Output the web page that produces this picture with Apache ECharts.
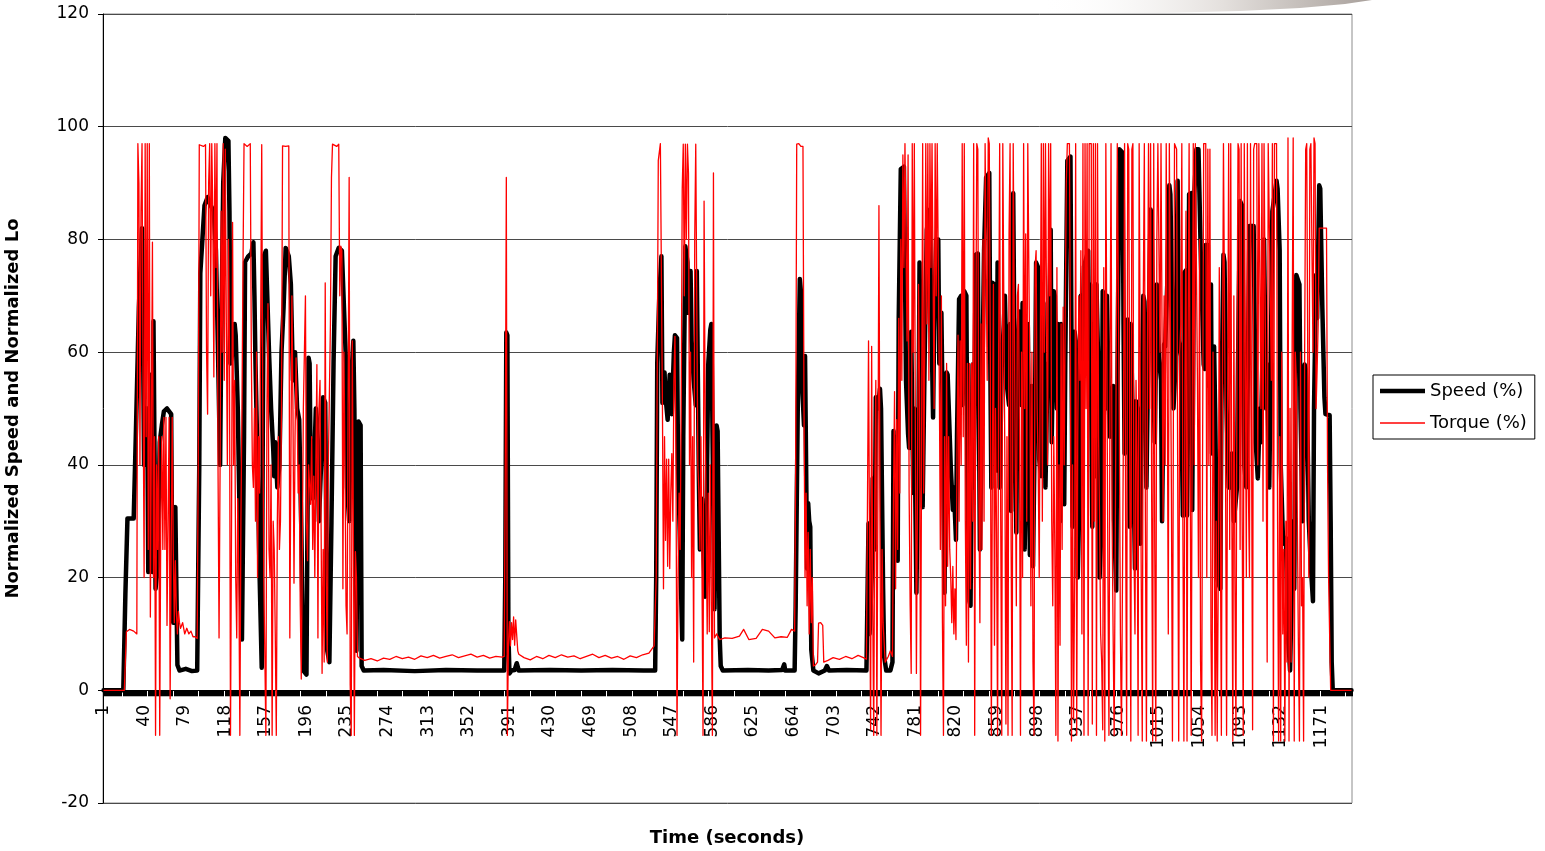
<!DOCTYPE html>
<html>
<head>
    <meta charset="UTF-8">
    <title>Normalized Speed and Torque</title>
    <script src="https://cdn.jsdelivr.net/npm/echarts@6/dist/echarts.min.js"></script>
    <style>
        html, body {
            margin: 0;
            padding: 0;
            background: #fff;
        }

        #chartContainer {
            width: 1545px;
            height: 851px;
        }
    </style>
</head>
<body>
<div id="chartContainer"></div>
<script>
    // cycle length in seconds (one category per second)
    var cycleSeconds = 1200;

    // [second, speed %]
    var speedPoints = [
        [1, 0], [20, 0], [22, 17], [24, 30.5], [30, 30.5], [32, 45], [35, 68], [38, 82], [39, 62], [40, 40],
        [41, 50], [43, 50], [44, 21], [46, 56], [47, 45], [48, 21], [49, 65.5], [50, 42], [51, 18], [53, 22],
        [55, 44], [57, 47], [59, 49.5], [62, 50], [66, 49], [67, 22], [68, 12], [70, 32.5], [71, 18], [72, 4.5],
        [74, 3.5], [80, 3.8], [86, 3.4], [91, 3.5],
        [93, 40], [94, 74], [96, 80], [98, 86], [101, 87.5], [104, 86], [107, 85], [109, 78], [111, 60], [113, 40],
        [114, 60], [116, 90], [118, 98], [121, 97.5], [122, 85], [123, 58], [125, 60], [127, 65], [128, 63], [130, 50],
        [132, 28], [134, 9], [136, 45], [137, 76], [140, 77], [143, 77.5], [145, 79.5], [146, 70], [147, 58], [149, 40],
        [151, 20], [153, 4], [154, 45], [155, 77], [157, 78], [158, 72], [160, 60], [162, 50], [164, 43], [165, 38],
        [166, 44], [168, 36], [170, 40], [172, 60], [174, 68], [176, 78.5], [179, 77], [181, 72], [183, 55], [185, 60],
        [187, 50], [189, 48], [191, 29], [193, 3.5], [196, 2.8], [198, 59], [199, 58], [200, 40], [202, 34], [203, 38],
        [205, 50], [206, 48], [208, 30], [210, 40], [212, 52], [214, 51], [216, 7], [218, 5], [220, 30], [222, 58],
        [224, 77], [227, 78.5], [230, 78], [232, 68], [234, 58], [235, 36], [237, 30], [239, 55], [241, 62], [242, 50],
        [244, 7], [246, 47.7], [248, 47], [249, 4.3], [251, 3.5],
        [270, 3.6], [300, 3.4], [330, 3.6], [360, 3.5], [386, 3.5], [387, 20], [388, 63.5], [389, 63], [390, 10], [391, 3],
        [393, 3.5], [396, 3.6], [398, 4.8], [400, 3.5], [430, 3.6], [460, 3.5], [490, 3.6], [520, 3.5], [531, 3.5],
        [532, 20], [533, 58], [535, 70], [537, 77], [538, 51], [540, 56.4], [541, 52], [543, 48], [545, 56], [547, 49],
        [549, 60], [550, 63], [552, 62.5], [553, 40], [555, 25], [557, 9], [558, 45], [560, 78.8], [562, 76], [563, 67],
        [565, 74.4], [566, 62], [568, 55], [570, 50.6], [571, 74.4], [573, 37.6], [574, 25], [576, 34], [577, 27], [579, 16.6],
        [580, 25], [582, 57.8], [584, 64], [585, 65], [587, 30], [588, 14.4], [590, 47], [591, 46], [593, 9.3], [594, 4.3],
        [596, 3.5], [620, 3.6], [640, 3.5], [653, 3.6], [655, 4.6], [656, 3.5], [665, 3.5],
        [666, 15], [668, 50], [670, 73], [671, 70.8], [672, 55], [674, 47], [675, 59.3], [677, 21.6], [678, 33.2], [679, 30],
        [680, 29], [681, 7.2], [683, 3.5], [688, 3], [694, 3.5], [696, 4.3], [698, 3.5], [715, 3.6], [734, 3.5],
        [736, 29.6], [737, 10], [739, 20], [740, 37.6], [742, 25], [743, 52], [745, 50], [747, 53.5], [748, 50], [750, 18],
        [751, 6], [753, 3.5], [757, 3.5], [759, 5], [760, 46], [762, 25], [763, 45], [764, 23], [765, 65.8], [767, 92.5],
        [770, 92.9], [771, 75], [772, 55], [774, 45.5], [775, 43], [777, 63.6], [779, 35], [780, 50], [782, 17.3], [784, 45],
        [785, 75.9], [787, 44], [788, 32.5], [790, 60], [792, 81.7], [795, 85.3], [796, 70], [798, 48.4], [799, 63.6], [801, 80],
        [803, 80], [804, 58], [806, 67], [808, 38], [809, 17.3], [811, 56.4], [812, 56], [813, 50.6], [815, 39.7], [817, 32],
        [818, 36], [820, 26.7], [821, 45], [823, 69.4], [825, 70], [826, 50.6], [828, 70.8], [830, 70], [831, 38], [833, 15.8],
        [834, 15], [836, 57.8], [837, 36], [839, 77.3], [841, 77.5], [843, 25], [845, 50], [847, 78], [849, 91], [852, 91.8],
        [853, 58], [854, 36], [855, 72.3], [857, 72], [859, 39], [860, 75.9], [862, 36], [864, 57.8], [866, 65], [867, 70],
        [869, 54], [871, 50.6], [872, 65], [873, 31.8], [875, 88.2], [876, 65], [878, 28], [879, 57], [881, 67.2], [883, 50.6],
        [884, 68.7], [886, 25], [887, 36], [889, 65], [891, 24], [893, 54], [894, 22], [896, 50], [897, 75.9], [899, 75],
        [900, 41], [902, 38], [904, 68.7], [905, 50], [906, 36], [908, 58], [909, 55], [911, 81.7], [912, 44], [914, 70.8],
        [915, 70], [917, 50], [918, 65], [920, 30], [921, 65], [923, 50], [924, 33], [925, 58], [927, 94], [930, 94.7],
        [931, 62], [932, 29], [934, 63.6], [935, 62], [937, 20], [938, 29], [940, 70], [941, 58], [943, 75.2], [947, 78],
        [948, 58], [949, 72], [951, 29], [952, 65], [954, 38], [955, 72], [957, 55], [958, 20], [960, 30], [961, 70.8],
        [962, 70], [964, 50], [965, 70], [967, 50], [968, 45], [970, 50], [971, 54], [972, 30], [974, 17.7], [975, 50],
        [977, 96], [980, 95.4], [981, 65], [982, 42], [984, 55], [985, 65.8], [987, 29], [988, 65], [990, 46.2], [992, 21.6],
        [993, 51.3], [995, 49], [996, 40], [997, 26], [998, 45], [1000, 70], [1001, 69], [1003, 36], [1004, 50], [1007, 85.3],
        [1008, 84], [1010, 52], [1011, 44], [1013, 72], [1015, 59], [1017, 55], [1018, 30], [1020, 61.4], [1021, 61], [1023, 72],
        [1025, 89.6], [1026, 88], [1028, 65], [1029, 50], [1031, 58], [1033, 90.4], [1034, 62], [1036, 59.3], [1038, 31], [1039, 74],
        [1041, 74.5], [1042, 31], [1044, 88], [1046, 88.2], [1047, 32], [1049, 88], [1051, 96], [1053, 96], [1055, 79], [1058, 57.8],
        [1059, 57], [1060, 79], [1062, 79], [1063, 54], [1065, 72], [1066, 42], [1068, 61], [1069, 50], [1071, 20], [1072, 19],
        [1074, 18], [1075, 50], [1077, 77.3], [1078, 76], [1080, 50], [1082, 36], [1084, 36], [1085, 42], [1087, 30], [1088, 30],
        [1090, 36], [1091, 57.8], [1093, 86.8], [1095, 86], [1097, 40], [1099, 36], [1100, 50], [1102, 82.4], [1106, 82.4], [1107, 65],
        [1108, 44], [1110, 37.6], [1112, 50], [1113, 44], [1115, 65], [1116, 80], [1118, 50], [1119, 57.8], [1121, 36], [1122, 50],
        [1124, 85], [1125, 85], [1128, 90.4], [1129, 89], [1131, 78], [1132, 40], [1134, 28], [1135, 26], [1137, 27], [1138, 18],
        [1139, 10], [1141, 3.5], [1142, 3.5], [1144, 30], [1145, 18], [1147, 73.7], [1150, 72], [1151, 50], [1153, 30], [1155, 57.8],
        [1156, 57], [1158, 43], [1159, 30], [1161, 22], [1163, 15.8], [1164, 50], [1166, 73.7], [1167, 66], [1169, 89.6], [1170, 89],
        [1172, 67.9], [1174, 52], [1175, 49], [1179, 48.8], [1180, 30], [1181, 5], [1182, 0], [1200, 0]
    ];

    // [second, torque %]
    var torquePoints = [
        [1, 0], [21, 0], [23, 10.4], [26, 10.8], [30, 10.5], [33, 10], [34, 97], [35, 90], [36, 40], [37, 85],
        [38, 97], [39, 55], [40, 20], [41, 97], [42, 45], [43, 97], [44, 25], [45, 97], [46, 13], [48, 79.5],
        [49, 20], [50, 45], [51, -8], [52, 40], [53, 25], [54, 45], [55, -8], [56, 30], [57, 45], [58, 25],
        [59, 48.4], [60, 25], [61, 48.4], [62, 11.5], [63, 30], [64, 48.4], [65, -1.5], [66, 25], [67, 48.4], [68, 25],
        [69, 12], [70, 23], [71, 14], [72, 10], [73, 14], [74, 12], [75, 11], [77, 12], [79, 10], [81, 11],
        [83, 10], [85, 10.5], [87, 9.5], [89, 9.5], [91, 9.2], [92, 40],
        [93, 96.8], [97, 96.5], [99, 96.8], [100, 60], [101, 49], [102, 90], [103, 97], [104, 70], [105, 97], [106, 85],
        [107, 55.6], [108, 97], [109, 75], [110, 97], [111, 40], [112, 9.3], [113, 40], [114, 85], [115, 60], [116, 97],
        [117, 55], [118, 96], [119, 65], [120, 40], [121, 80], [122, 60], [123, -8], [124, 30], [125, 83], [126, 40],
        [127, 55], [128, 20], [129, 9.3], [130, 34], [131, 20], [132, -8], [133, 30], [134, 50], [135, 75], [136, 97],
        [139, 96.5], [142, 97], [143, 60], [144, 40], [145, 36], [146, 50], [147, 30], [148, 60], [149, 20], [150, 45],
        [151, 35], [153, 96.8], [154, 50], [155, 20], [156, 6], [157, -8], [158, 50], [159, 68.6], [160, 25], [161, 20],
        [162, 40], [163, -8], [164, 30], [165, 25], [166, 10], [167, -8], [168, 30], [169, 45], [170, 25], [171, 30],
        [172, 50], [173, 96.6], [176, 96.5], [179, 96.6], [180, 9.3], [181, 40], [182, 70], [183, 50], [184, 19], [185, 45],
        [186, 59], [187, 50], [188, 35], [189, 40], [190, 15], [191, 2], [192, 25], [193, 50], [195, 70], [196, 30],
        [197, 23], [198, 40], [200, 33], [201, 45], [202, 25], [203, 38], [204, 20], [205, 40], [206, 57.8], [207, 9.3],
        [208, 50], [209, 55], [210, 30], [211, 3], [212, 25], [213, 5], [214, 72.3], [215, 20], [216, 5], [217, 40],
        [219, 65], [220, 91], [221, 96.9], [225, 96.5], [227, 96.9], [228, 70], [229, 78.8], [230, 78], [231, 18], [232, 60],
        [233, 40], [234, 15], [235, 10], [237, 91], [238, 1], [239, -8], [240, 62], [241, 30], [242, -8], [243, 24.6],
        [244, 20], [245, 6], [247, 5.7],
        [252, 5.3], [258, 5.6], [264, 5.2], [270, 5.7], [276, 5.5], [282, 6.0], [288, 5.6], [294, 5.9], [300, 5.5], [306, 6.1],
        [312, 5.8], [318, 6.2], [324, 5.7], [330, 6.0], [336, 6.3], [342, 5.8], [348, 6.1], [354, 6.4], [360, 5.9], [366, 6.2],
        [372, 5.7], [378, 6.0], [384, 5.9], [386, 6], [387, 40], [388, 91], [389, -8], [390, 8], [391, 12.2], [392, 7.9],
        [393, 12], [394, 9], [395, 13], [396, 8], [397, 12.5], [398, 12.5], [399, 7], [400, 6.4], [405, 5.8], [411, 5.4],
        [417, 6.0], [423, 5.6], [429, 6.2], [435, 5.8], [441, 6.3], [447, 5.9], [453, 6.1], [459, 5.6], [465, 6.0], [471, 6.4],
        [477, 5.8], [483, 6.2], [489, 5.7], [495, 6.0], [501, 5.5], [507, 6.1], [513, 5.8], [519, 6.3], [525, 6.6], [530, 7.9],
        [532, 20], [534, 94], [536, 97], [537, 97], [538, 50], [539, 18], [540, 45], [541, 26.6], [542, 41], [543, 22],
        [544, 41], [545, 21.6], [546, 35], [547, 42], [548, 30], [549, 55], [550, 62.8], [551, 40], [552, -8], [553, 20],
        [554, 35], [555, 25], [556, 50], [557, 89], [558, 96.9], [559, 70], [560, 96.9], [561, 80], [562, 96.9], [563, 91.8],
        [564, 40], [565, 60], [566, 20], [567, 45], [568, 5], [569, 80], [570, 96.9], [571, 97], [572, 40], [573, 35],
        [574, 25], [575, 45], [576, 20], [577, -8], [578, 86.8], [579, 50], [580, 30], [581, 10], [582, 35], [583, 10.4],
        [584, 40], [585, 15], [586, -8], [587, 91.8], [588, 9.3], [590, 10], [593, 9], [598, 9.3], [605, 9.2], [612, 9.6],
        [616, 10.8], [621, 9], [628, 9.2], [634, 10.8], [640, 10.5], [646, 9.3], [652, 9.5], [658, 9.4], [662, 10.8], [665, 10.5],
        [666, 40], [667, 96.9], [669, 97], [671, 96.5], [673, 96.5], [674, 50], [675, 20], [676, 35], [677, 15], [678, 28],
        [679, 10], [680, 25], [681, 12], [682, 20], [683, 4.3], [685, 4.5], [687, 5], [688, 11.9], [690, 12], [692, 11.5],
        [693, 5], [697, 5.3], [702, 5.8], [708, 5.5], [714, 6], [720, 5.6], [726, 6.2], [731, 5.8], [734, 5.5],
        [736, 62], [737, 25], [738, -7], [739, 61], [740, 15], [741, -8], [742, 35], [743, 55], [744, -8], [745, 35],
        [746, 86], [747, 30], [748, -8], [749, 25], [750, 12], [752, 5], [755, 6], [757, 7], [759, 6], [760, 35],
        [761, 53], [762, 18], [763, 48], [764, 25], [765, 66], [766, 35], [767, 80], [768, 55], [769, 95], [770, 75],
        [771, 97], [772, 97], [773, 62], [774, 95], [775, 35], [776, 15], [777, 3], [778, 97], [779, 60], [780, 97],
        [781, 45], [782, 3], [783, 35], [784, 72], [785, 55], [786, -8], [787, 45], [788, 97], [789, 35], [790, 60],
        [791, 97], [792, 65], [793, 97], [794, 55], [795, 97], [796, 75], [797, 97], [798, 97], [799, 50], [800, 97],
        [801, 70], [802, 97], [803, 97], [804, 55], [805, 25], [806, 70], [807, 12], [808, -8], [809, 45], [810, 15],
        [811, 58], [812, 22], [813, 45], [814, 25], [815, 20], [816, 12], [817, 22], [818, 10], [819, 18], [820, 9],
        [821, 42], [822, 63], [823, 30], [824, 62], [825, 40], [826, 97], [827, 45], [828, 97], [829, 30], [830, 8],
        [831, 58], [832, 5], [833, 58], [834, 18], [835, 58], [836, 30], [837, 97], [838, -8], [839, 60], [840, 97],
        [841, 96], [842, 35], [843, 12], [844, 65], [845, 25], [846, 80], [847, 30], [848, 97], [849, 97], [850, 55],
        [851, 98], [852, 97], [853, 60], [854, -8], [855, 40], [856, 72], [857, 8], [858, 50], [859, 28], [860, -8],
        [861, 60], [862, 97], [863, 30], [864, -8], [865, 97], [866, 97], [867, 40], [868, -6], [869, 45], [870, -8],
        [871, 81], [872, 97], [873, 25], [874, -8], [875, 97], [876, 97], [877, 40], [878, 15], [879, 70], [880, 72],
        [881, 45], [882, -8], [883, 60], [884, 20], [885, 97], [886, 50], [887, 81], [888, 30], [889, 97], [890, 97],
        [891, 55], [892, 15], [893, 60], [894, 5], [895, -8], [896, 75], [897, 78], [898, 50], [899, 40], [900, 20],
        [901, 60], [902, 97], [903, 30], [904, 97], [905, 60], [906, 97], [907, 97], [908, 40], [909, 97], [910, 70],
        [911, 97], [912, 30], [913, 15], [914, 45], [915, 25], [916, -8], [917, 75], [918, -9], [919, 40], [920, 8],
        [921, 65], [922, 25], [923, 68], [924, 40], [925, 68], [926, 90], [927, 97], [928, 97], [929, 97], [930, 60],
        [931, -9], [932, 40], [933, -5], [934, 20], [935, 97], [936, -8], [937, 45], [938, 70], [939, 55], [940, 78],
        [941, 10], [942, 97], [943, -8], [944, 97], [945, 50], [946, 97], [947, -8], [948, 97], [949, 97], [950, 97],
        [951, -6], [952, 97], [953, 30], [954, 97], [955, -8], [956, 97], [957, 45], [958, 30], [959, 10], [960, 5],
        [961, -7], [962, 75], [963, -9], [964, 97], [965, 97], [966, 20], [967, -8], [968, 55], [969, 97], [970, 30],
        [971, 10], [972, -8], [973, 25], [974, 60], [975, 97], [976, 97], [977, 45], [978, 10], [979, -8], [980, 20],
        [981, 50], [982, 97], [983, 30], [984, -8], [985, 97], [986, 96], [987, 40], [988, -9], [989, 96], [990, 97],
        [991, 25], [992, 10], [993, 55], [994, 40], [995, -8], [996, 97], [997, 97], [998, 20], [999, -9], [1000, 70],
        [1001, 97], [1002, 30], [1003, -9], [1004, 60], [1005, 97], [1006, 50], [1007, 97], [1008, 35], [1009, -9], [1010, 97],
        [1011, 25], [1012, -9], [1013, 80], [1014, 97], [1015, 97], [1016, 60], [1017, 97], [1018, 97], [1019, 30], [1020, 70],
        [1021, 40], [1022, 97], [1023, 55], [1024, 10], [1025, 97], [1026, 97], [1027, 35], [1028, -9], [1029, 55], [1030, 97],
        [1031, 97], [1032, 96], [1033, 40], [1034, -9], [1035, 60], [1036, 65], [1037, 97], [1038, 30], [1039, -9], [1040, 55],
        [1041, 85], [1042, -9], [1043, 60], [1044, 97], [1045, 97], [1046, -8], [1047, 50], [1048, 97], [1049, 40], [1050, 97],
        [1051, 97], [1052, 55], [1053, 20], [1054, 80], [1055, 5], [1056, -9], [1057, 45], [1058, 97], [1059, 97], [1060, 97],
        [1061, 20], [1062, 96], [1063, 40], [1064, 96], [1065, 10], [1066, -8], [1067, 60], [1068, 35], [1069, -8], [1070, 30],
        [1071, -9], [1072, 20], [1073, 75], [1074, 30], [1075, -8], [1076, 55], [1077, 97], [1078, 97], [1079, 40], [1080, -8],
        [1081, 50], [1082, 97], [1083, 25], [1084, 97], [1085, 35], [1086, -9], [1087, 70], [1088, 20], [1089, -8], [1090, 60],
        [1091, 97], [1092, 96], [1093, 25], [1094, 97], [1095, 30], [1096, -8], [1097, 97], [1098, 60], [1099, 20], [1100, 97],
        [1101, 35], [1102, 20], [1103, 97], [1104, 97], [1105, -7], [1106, 96], [1107, 97], [1108, 97], [1109, 97], [1110, 40],
        [1111, 97], [1112, 97], [1113, 50], [1114, 97], [1115, 30], [1116, 97], [1117, 97], [1118, 45], [1119, 5], [1120, 97],
        [1121, 97], [1122, 70], [1123, 55], [1124, 97], [1125, -9], [1126, 97], [1127, 97], [1128, 97], [1129, 30], [1130, -9],
        [1131, 45], [1132, -9], [1133, 60], [1134, 10], [1135, 25], [1136, -9], [1137, 30], [1138, 5], [1139, 98], [1140, -9],
        [1141, 50], [1142, 5], [1143, 62], [1144, 98], [1145, -9], [1146, 60], [1147, 55], [1148, 30], [1149, 8], [1150, -9],
        [1151, 60], [1152, 15], [1153, 20], [1154, -9], [1155, 60], [1156, 96], [1157, 97], [1158, 97], [1159, 20], [1160, 96],
        [1161, 97], [1162, 97], [1163, 60], [1164, 98], [1165, 97], [1166, 50], [1167, 57], [1168, 65], [1169, 82], [1172, 82],
        [1174, 82], [1176, 82], [1177, 40], [1178, 20], [1180, 0], [1200, 0]
    ];

    var seconds = [];
    for (var s = 1; s <= cycleSeconds; s++) {
        seconds.push(String(s));
    }

    // category axis takes the 0-based index of the second
    function toSeries(points) {
        return points.map(function (p) {
            return [p[0] - 1, p[1]];
        });
    }

    var tickFont = 'DejaVu Sans';

    var myChart = echarts.init(document.getElementById('chartContainer'), null, {renderer: 'canvas'});
    var option = {
        animation: false,
        backgroundColor: '#fff',
        grid: {
            left: 103,
            right: 193,
            top: 14,
            bottom: 48,
            show: true,
            borderColor: '#8c8c8c',
            borderWidth: 1,
            containLabel: false,
            outerBoundsMode: 'none'
        },
        legend: {
            orient: 'vertical',
            left: 1373,
            top: 375,
            padding: [7, 8, 7, 7],
            itemGap: 14,
            itemWidth: 45,
            itemHeight: 20,
            borderColor: '#000',
            borderWidth: 1,
            textStyle: {
                fontFamily: tickFont,
                fontSize: 18,
                color: '#000'
            },
            data: [
                {name: 'Speed (%)', icon: 'path://M0,0H45V4.5H0Z', itemStyle: {color: '#000', borderWidth: 0}},
                {name: 'Torque (%)', icon: 'path://M0,0H45V1.3H0Z', itemStyle: {color: '#ff0000', borderWidth: 0}}
            ]
        },
        graphic: [
            {
                type: 'polygon',
                silent: true,
                shape: {
                    points: [[1040, 0], [1372, 0], [1345, 4], [1300, 8], [1240, 11], [1160, 13], [1040, 13]]
                },
                style: {
                    fill: new echarts.graphic.LinearGradient(0, 0, 1, 0, [
                        {offset: 0, color: 'rgba(255,255,255,0)'},
                        {offset: 0.55, color: '#e4e0dd'},
                        {offset: 1, color: '#a8a09b'}
                    ])
                }
            },
            {
                type: 'text',
                silent: true,
                style: {
                    x: 727,
                    y: 838,
                    text: 'Time (seconds)',
                    textAlign: 'center',
                    textVerticalAlign: 'middle',
                    fontFamily: tickFont,
                    fontWeight: 'bold',
                    fontSize: 18,
                    fill: '#000'
                }
            }
        ],
        xAxis: {
            type: 'category',
            data: seconds,
            boundaryGap: true,
            axisLine: {
                onZero: true,
                lineStyle: {color: '#000', width: 1}
            },
            axisTick: {
                show: true,
                interval: 0,
                length: 6,
                lineStyle: {color: '#000', width: 1}
            },
            axisLabel: {
                interval: 38,
                rotate: 90,
                // labels sit under the zero line, not at the grid bottom
                margin: -98,
                fontFamily: tickFont,
                fontSize: 17,
                color: '#000'
            },
            splitLine: {show: false}
        },
        yAxis: {
            type: 'value',
            min: -20,
            max: 120,
            interval: 20,
            name: 'Normalized Speed and Normalized Lo',
            nameLocation: 'middle',
            nameGap: 81,
            nameRotate: 90,
            nameTextStyle: {
                fontFamily: tickFont,
                fontWeight: 'bold',
                fontSize: 18,
                color: '#000'
            },
            axisLine: {
                show: true,
                lineStyle: {color: '#000', width: 1}
            },
            axisTick: {
                show: true,
                length: 5,
                lineStyle: {color: '#000'}
            },
            axisLabel: {
                margin: 14,
                fontFamily: tickFont,
                fontSize: 17,
                color: '#000'
            },
            splitLine: {
                show: true,
                lineStyle: {color: '#4a4a4a', width: 1}
            }
        },
        series: [
            {
                name: 'Speed (%)',
                type: 'line',
                data: toSeries(speedPoints),
                showSymbol: false,
                symbol: 'none',
                itemStyle: {color: '#000'},
                lineStyle: {color: '#000', width: 4.5, join: 'round', cap: 'round'}
            },
            {
                name: 'Torque (%)',
                type: 'line',
                data: toSeries(torquePoints),
                showSymbol: false,
                symbol: 'none',
                itemStyle: {color: '#ff0000'},
                lineStyle: {color: '#ff0000', width: 1.3, join: 'round'}
            }
        ]
    };
    myChart.setOption(option);
</script>
</body>
</html>
